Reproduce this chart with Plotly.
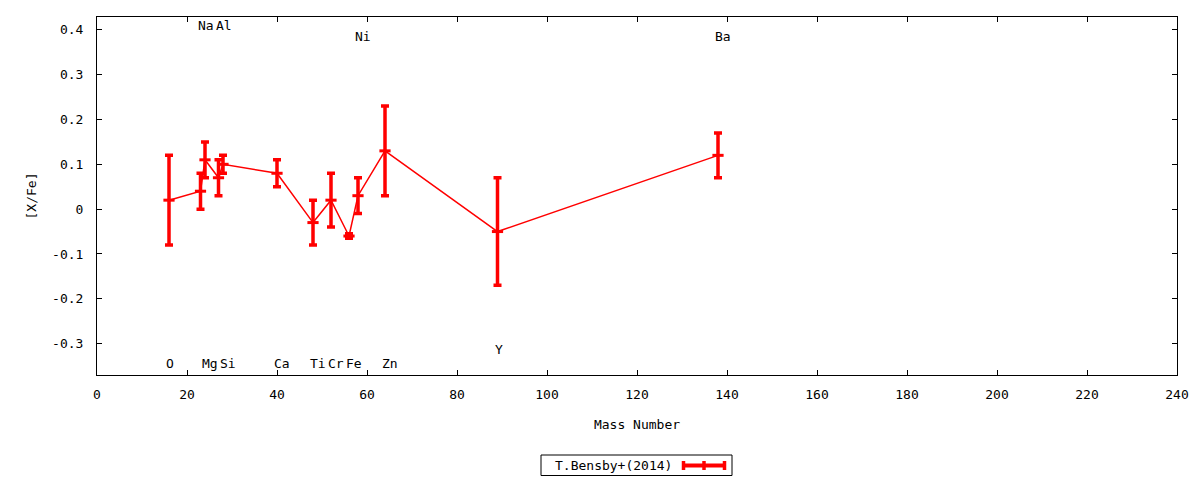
import plotly.graph_objects as go

# [X/Fe] abundance ratios vs mass number, T.Bensby+(2014)
elements = ["O", "Na", "Mg", "Al", "Si", "Ca", "Ti", "Cr", "Fe", "Ni", "Zn", "Y", "Ba"]
mass_number = [16, 23, 24, 27, 28, 40, 48, 52, 56, 58, 64, 89, 138]
x_fe = [0.02, 0.04, 0.11, 0.07, 0.10, 0.08, -0.03, 0.02, -0.06, 0.03, 0.13, -0.05, 0.12]
x_fe_err = [0.10, 0.04, 0.04, 0.04, 0.02, 0.03, 0.05, 0.06, 0.005, 0.04, 0.10, 0.12, 0.05]
label_y = [-0.345, 0.41, -0.345, 0.41, -0.345, -0.345, -0.345, -0.345, -0.345,
           0.385, -0.345, -0.312, 0.385]

x_ticks = [0, 20, 40, 60, 80, 100, 120, 140, 160, 180, 200, 220, 240]
y_ticks = [-0.3, -0.2, -0.1, 0, 0.1, 0.2, 0.3, 0.4]
y_tick_text = ["-0.3", "-0.2", "-0.1", "0", "0.1", "0.2", "0.3", "0.4"]

series_name = "T.Bensby+(2014)"
RED = "#ff0000"
FONT = dict(family="DejaVu Sans Mono", size=13, color="black")

# page body has an 8px margin, so the figure is drawn 8px in from the corner
OFF = 8
W, H = 1200 - OFF, 480 - OFF
# plot area in window pixels (also used for the hand-made gnuplot style key)
L, R, T, B = 97, 1177, 17, 375


def px(xp):
    return (xp - L) / (R - L)


def py(yp):
    return (B - yp) / (B - T)


fig = go.Figure()
fig.add_trace(go.Scatter(
    x=mass_number, y=x_fe, mode="lines+markers", name=series_name,
    line=dict(color=RED, width=1.5),
    marker=dict(symbol="line-ew", size=8, color=RED, line=dict(color=RED, width=3)),
    error_y=dict(type="data", array=x_fe_err, color=RED, thickness=3.5, width=4),
    showlegend=False,
))

for name, xm, yl in zip(elements, mass_number, label_y):
    fig.add_annotation(x=xm, y=yl, text=name, showarrow=False, xanchor="left",
                       xshift=-5, font=FONT)

# key box
fig.add_shape(type="rect", xref="paper", yref="paper", x0=px(541), x1=px(732),
              y0=py(475.5), y1=py(455), line=dict(color="black", width=1))
fig.add_annotation(xref="paper", yref="paper", x=px(674), y=py(465.5), text=series_name,
                   showarrow=False, xanchor="right", yanchor="middle", font=FONT)
fig.add_shape(type="line", xref="paper", yref="paper", x0=px(682), x1=px(726),
              y0=py(465.5), y1=py(465.5), line=dict(color=RED, width=4))
for xp in (683.5, 704, 724.5):
    fig.add_shape(type="line", xref="paper", yref="paper", x0=px(xp), x1=px(xp),
                  y0=py(461), y1=py(470), line=dict(color=RED, width=3.5))

axis_style = dict(showline=True, linecolor="black", linewidth=1, mirror="ticks",
                  ticks="inside", ticklen=5, tickcolor="black", showgrid=False,
                  zeroline=False, tickfont=FONT)

fig.update_xaxes(range=[0, 240], tickvals=x_ticks, ticklabelstandoff=7,
                 title=dict(text="Mass Number", font=FONT, standoff=19), **axis_style)
fig.update_yaxes(range=[-0.37, 0.4286], tickvals=y_ticks, ticktext=y_tick_text,
                 ticklabelstandoff=10,
                 title=dict(text="[X/Fe]", font=FONT, standoff=12), **axis_style)

fig.update_layout(width=W, height=H, plot_bgcolor="white", paper_bgcolor="white",
                  margin=dict(l=L - OFF, r=W + OFF - R, t=T - OFF, b=H + OFF - B),
                  font=FONT)

fig.write_html("out.html")
